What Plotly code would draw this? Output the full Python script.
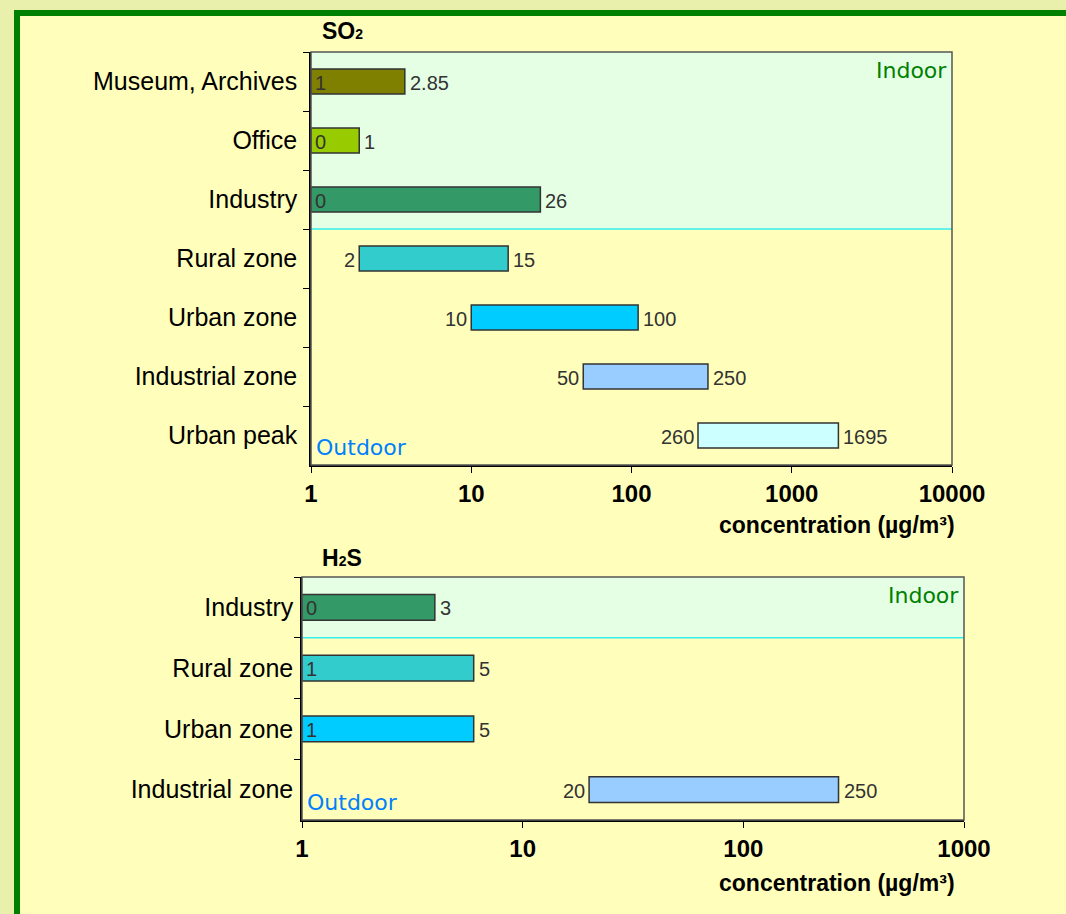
import numpy as np
import plotly.graph_objects as go

W, H = 1066, 914

# SO2 concentration ranges: lower bound and span (upper - lower)
so2_sources = ["Museum, Archives", "Office", "Industry", "Rural zone",
               "Urban zone", "Industrial zone", "Urban peak"]
so2_low = [1, 0, 0, 2, 10, 50, 260]
so2_span = [2.85, 1, 26, 15, 100, 250, 1695]
so2_colors = ["#808000", "#99CC00", "#339966", "#33CCCC",
              "#00CCFF", "#99CCFF", "#CCFFFF"]
so2_indoor = 3  # first rows are indoor environments

# H2S concentration ranges
h2s_sources = ["Industry", "Rural zone", "Urban zone", "Industrial zone"]
h2s_low = [0, 1, 1, 20]
h2s_span = [3, 5, 5, 250]
h2s_colors = ["#339966", "#33CCCC", "#00CCFF", "#99CCFF"]
h2s_indoor = 1

so2_ticks = [1, 10, 100, 1000, 10000]
h2s_ticks = [1, 10, 100, 1000]

OUTER = "#E8F0AC"
INNER = "#FFFFBB"
FRAME = "#008000"
INDOOR_BG = "#E5FFE5"
OUTDOOR_BG = "#E5FFFF"
LABEL_FONT = "Liberation Sans, Arial, sans-serif"
ZONE_FONT = "DejaVu Sans, Verdana, sans-serif"


def px_x(p):
    return p / W


def px_y(p):
    return 1 - p / H


fig = go.Figure()

panels = [
    dict(name="SO<span style='font-size:14px'>2</span>", cats=so2_sources, low=so2_low,
         span=so2_span, colors=so2_colors, indoor=so2_indoor, ticks=so2_ticks,
         xa="x", ya="y", dom_x=(311, 952), dom_y=(52, 465), title_xy=(320, 31),
         axis_title_y=525, standoff=7),
    dict(name="H<span style='font-size:14px'>2</span>S", cats=h2s_sources, low=h2s_low,
         span=h2s_span, colors=h2s_colors, indoor=h2s_indoor, ticks=h2s_ticks,
         xa="x2", ya="y2", dom_x=(302, 964), dom_y=(577, 820), title_xy=(320, 558),
         axis_title_y=883, standoff=2),
]

shapes = [
    # page frame
    dict(type="rect", xref="paper", yref="paper", x0=px_x(17), x1=1.05,
         y0=-0.05, y1=px_y(13), line=dict(color=FRAME, width=6),
         fillcolor=INNER, layer="below"),
]
annotations = []

for i, p in enumerate(panels):
    sfx = "" if i == 0 else str(i + 1)
    start = [max(lo, 1) for lo in p["low"]]  # log axis begins at 1
    end = [s + d for s, d in zip(start, p["span"])]

    fig.add_trace(go.Bar(
        y=p["cats"], x=p["span"], base=start, orientation="h",
        marker=dict(color=p["colors"], line=dict(color="#333333", width=1.5)),
        width=0.42, xaxis=p["xa"], yaxis=p["ya"], hoverinfo="skip",
        showlegend=False,
    ))

    # value labels: lower bound at bar start, span at bar end
    for cat, lo, s, e, d in zip(p["cats"], p["low"], start, end, p["span"]):
        inside = lo <= 1
        annotations.append(dict(
            x=np.log10(s), y=cat, xref=p["xa"], yref=p["ya"],
            text=f"{lo:g}", showarrow=False,
            xanchor="left" if inside else "right",
            xshift=2 if inside else -2, yshift=-1,
            font=dict(family=LABEL_FONT, size=20, color="#333333"),
        ))
        annotations.append(dict(
            x=np.log10(e), y=cat, xref=p["xa"], yref=p["ya"],
            text=f"{d:g}", showarrow=False, xanchor="left", xshift=3, yshift=-1,
            font=dict(family=LABEL_FONT, size=20, color="#333333"),
        ))

    # indoor / outdoor bands
    shapes.append(dict(type="rect", xref=f"{p['xa']} domain", yref=p["ya"],
                       x0=0, x1=1, y0=-0.5, y1=p["indoor"] - 0.5,
                       fillcolor=INDOOR_BG, line=dict(width=0), layer="below"))
    shapes.append(dict(type="line", xref=f"{p['xa']} domain", yref=p["ya"],
                       x0=0, x1=1, y0=p["indoor"] - 0.5, y1=p["indoor"] - 0.5,
                       line=dict(color="#33EEEE", width=1.5)))
    # plot frame
    shapes.append(dict(type="rect", xref=f"{p['xa']} domain", yref=f"{p['ya']} domain",
                       x0=0, x1=1, y0=0, y1=1,
                       line=dict(color="#555555", width=1.5)))

    annotations.append(dict(
        x=1, y=1, xref=f"{p['xa']} domain", yref=f"{p['ya']} domain",
        text="Indoor", showarrow=False, xanchor="right", yanchor="top",
        xshift=-3, yshift=-4,
        font=dict(family=ZONE_FONT, size=22, color="#008000"),
    ))
    annotations.append(dict(
        x=0, y=0, xref=f"{p['xa']} domain", yref=f"{p['ya']} domain",
        text="Outdoor", showarrow=False, xanchor="left", yanchor="bottom",
        xshift=3, yshift=3,
        font=dict(family=ZONE_FONT, size=22, color="#0080FF"),
    ))
    annotations.append(dict(
        x=px_x(p["title_xy"][0]), y=px_y(p["title_xy"][1]), xref="paper", yref="paper",
        text=f"<b>{p['name']}</b>", showarrow=False, xanchor="left", yanchor="middle",
        font=dict(family=LABEL_FONT, size=23, color="black"),
    ))
    annotations.append(dict(
        x=px_x(957), y=px_y(p["axis_title_y"]), xref="paper", yref="paper",
        text="<b>concentration (µg/m³)</b>", showarrow=False,
        xanchor="right", yanchor="middle",
        font=dict(family=LABEL_FONT, size=23, color="black"),
    ))

    lo_d, hi_d = np.log10(p["ticks"][0]), np.log10(p["ticks"][-1])
    fig.update_layout({
        f"xaxis{sfx}": dict(
            type="log", range=[lo_d, hi_d], domain=[px_x(p["dom_x"][0]), px_x(p["dom_x"][1])],
            anchor=p["ya"], tickvals=p["ticks"], ticktext=[f"<b>{t}</b>" for t in p["ticks"]],
            ticks="outside", ticklen=6, tickcolor="black", showgrid=False, zeroline=False,
            showline=True, linecolor="black", linewidth=1.5, automargin=False,
            tickfont=dict(family=LABEL_FONT, size=24, color="black"),
        ),
        f"yaxis{sfx}": dict(
            type="category", categoryorder="array", categoryarray=p["cats"],
            autorange="reversed", domain=[px_y(p["dom_y"][1]), px_y(p["dom_y"][0])],
            anchor=p["xa"], tickson="boundaries", ticks="outside", ticklen=6,
            tickcolor="black", showgrid=False, zeroline=False, showline=True,
            linecolor="black", linewidth=1.5, ticklabelstandoff=p["standoff"],
            automargin=False,
            tickfont=dict(family=LABEL_FONT, size=25, color="black"),
        ),
    })

fig.update_layout(
    width=W, height=H, autosize=False,
    margin=dict(l=0, r=0, t=0, b=0),
    paper_bgcolor=OUTER, plot_bgcolor=OUTDOOR_BG,
    shapes=shapes, annotations=annotations, bargap=0.5,
)

fig.write_html("out.html")
